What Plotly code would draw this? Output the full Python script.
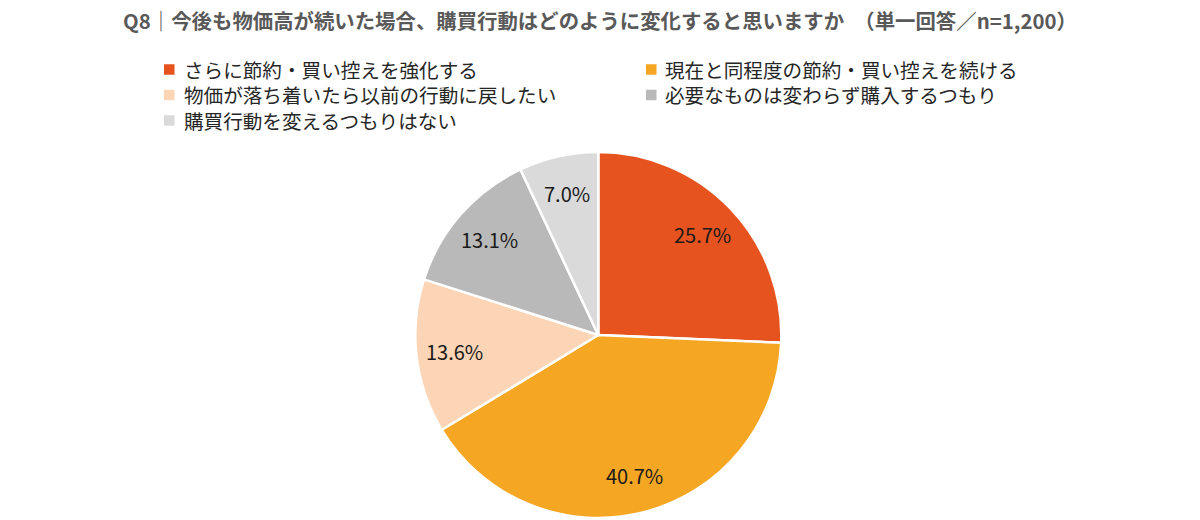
import math
import plotly.graph_objects as go

title_text = "Q8｜今後も物価高が続いた場合、購買行動はどのように変化すると思いますか　（単一回答／n=1,200）"
categories = [
    "さらに節約・買い控えを強化する",
    "現在と同程度の節約・買い控えを続ける",
    "物価が落ち着いたら以前の行動に戻したい",
    "必要なものは変わらず購入するつもり",
    "購買行動を変えるつもりはない",
]
values = [25.7, 40.7, 13.6, 13.1, 7.0]
colors = ["#E6531F", "#F5A623", "#FCD5B6", "#B9B9B9", "#DADADA"]

FONT = "Noto Sans CJK JP"
W, H = 1200, 520

# pie geometry (pixels)
CX, CY, R = 598.3, 335.0, 183.0
LABEL_FRAC = 0.79

fig = go.Figure(go.Pie(
    labels=categories,
    values=values,
    sort=False,
    direction="clockwise",
    rotation=0,
    marker=dict(colors=colors, line=dict(color="white", width=2.5)),
    textinfo="none",
    hoverinfo="label+value",
    domain=dict(x=[(CX - R) / W, (CX + R) / W], y=[1 - (CY + R) / H, 1 - (CY - R) / H]),
    showlegend=False,
))

annotations = []
shapes = []

# value labels inside slices, at mid-angle of each slice
total = sum(values)
cum = 0.0
for v in values:
    mid = (cum + v / 2) / total * 2 * math.pi
    cum += v
    px = CX + LABEL_FRAC * R * math.sin(mid)
    py = CY - LABEL_FRAC * R * math.cos(mid)
    annotations.append(dict(
        x=px / W, y=1 - py / H, xref="paper", yref="paper",
        text=f"{v:.1f}%", showarrow=False,
        xanchor="center", yanchor="middle",
        font=dict(family=FONT, size=20, color="#1A1A1A"),
    ))

# legend (two columns, one multi-line text per column)
LEG_FS = 19.6
LINE = LEG_FS * 1.3
ROW0 = 69.5
col_sq_x = [164, 646]
col_txt_x = [182, 663]
SQ = 10.5
for c in range(2):
    idx = list(range(c, len(categories), 2))
    for r, i in enumerate(idx):
        yy = ROW0 + r * LINE
        shapes.append(dict(
            type="rect", xref="paper", yref="paper",
            x0=col_sq_x[c] / W, x1=(col_sq_x[c] + SQ) / W,
            y0=1 - (yy + SQ / 2) / H, y1=1 - (yy - SQ / 2) / H,
            fillcolor=colors[i], line=dict(width=0),
        ))
    ymid = ROW0 + (len(idx) - 1) * LINE / 2
    annotations.append(dict(
        x=col_txt_x[c] / W, y=1 - ymid / H, xref="paper", yref="paper",
        text="<br>".join(categories[i] for i in idx), showarrow=False,
        xanchor="left", yanchor="middle", align="left",
        font=dict(family=FONT, size=LEG_FS, color="#262626"),
    ))

fig.update_layout(
    width=W,
    height=H,
    margin=dict(l=0, r=0, t=0, b=0, autoexpand=False),
    paper_bgcolor="white",
    plot_bgcolor="white",
    font=dict(family=FONT, color="#333333"),
    title=dict(
        text="<b>" + title_text + "</b>",
        x=0.5, xanchor="center",
        y=1 - 22 / H, yanchor="middle",
        font=dict(family=FONT, size=20.4, color="#595959"),
    ),
    annotations=annotations,
    shapes=shapes,
    showlegend=False,
)

fig.write_html("out.html")
